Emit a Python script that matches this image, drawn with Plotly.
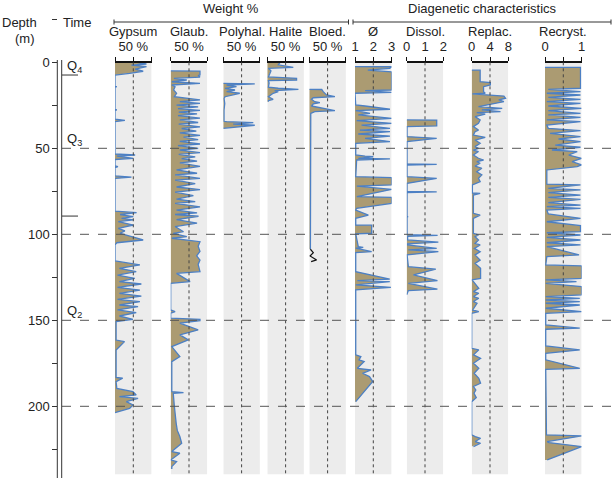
import plotly.graph_objects as go

# ---- depth axis / time column ----
depth_ticks = [0, 50, 100, 150, 200]
depth_labels = ["0", "50", "100", "150", "200"]
depth_minor_step = 25
grid_depths = [50, 100, 150, 200]
time_bounds = [7.4, 89.4]
time_labels = ["Q<sub>4</sub>", "Q<sub>3</sub>", "Q<sub>2</sub>"]
time_label_depths = [2.5, 45, 145]

# ---- panels ----
panel_names = ["Gypsum", "Glaub.", "Polyhal.", "Halite", "Bloed.", "Ø", "Dissol.", "Replac.", "Recryst."]
panel_ranges = [[0, 100], [0, 100], [0, 100], [0, 100], [0, 100], [1, 3], [0, 2], [0, 8], [0, 1]]
panel_tickvals = [[50]] * 5 + [[1, 2, 3], [0, 1, 2], [0, 4, 8], [0, 1]]
panel_ticktext = [["50 %"]] * 5 + [["1", "2", "3"], ["0", "1", "2"], ["0", "4", "8"], ["0", "1"]]

gypsum_depth = [0, 1.0, 1.6, 2.5, 4.0, 5.2, 6.4, 7.4, 14.0, 14.2, 14.5, 27.4, 27.7, 28.0, 33.0, 33.8, 34.5,
                53.3, 53.9, 54.5, 55.8, 56.5, 60.2, 60.7, 61.2, 66.0, 66.8, 67.5, 86.5, 87.4, 88.5, 89.7, 90.7,
                91.6, 92.6, 94.6, 96.5, 98.0, 99.4, 101.0, 103.3, 104.9, 106.2, 115.5, 117.8, 119.8, 121.7,
                123.7, 125.6, 127.5, 128.9, 130.8, 132.4, 134.3, 135.9, 137.8, 139.2, 141.1, 142.1, 144.0,
                145.6, 147.5, 149.4, 150.8, 161.5, 162.4, 167.3, 183.2, 183.7, 185.7, 189.6, 191.5, 193.4,
                194.4, 195.4, 197.3, 199.2, 201.2, 203.7]
gypsum_pct = [60, 86, 45, 86, 55, 77, 40, 0, 0, 5, 0, 0, 5, 0, 0, 27, 0,
              0, 55, 5, 50, 0, 0, 8, 0, 0, 45, 0, 0, 59, 14, 50, 18,
              50, 9, 50, 9, 27, 14, 40, 77, 5, 0, 0, 68, 12, 58,
              7, 54, 12, 72, 7, 68, 12, 72, 7, 68, 12, 63, 7,
              58, 12, 49, 3, 3, 26, 3, 3, 21, 3, 5, 49, 58,
              12, 63, 31, 49, 40, 0]

glaub_depth = [5.0, 5.1, 7.4, 7.6, 8.6, 9.3, 10.3, 11.3, 12.2, 13.2, 14.2, 16.1, 18.0, 20.0, 21.9, 22.9, 23.9,
               24.9, 25.9, 26.9, 28.0, 29.0, 30.0, 31.0, 32.5, 33.5, 35.0, 36.0, 37.5, 38.5, 40.0, 41.0, 42.5,
               43.5, 45.0, 46.0, 47.5, 48.5, 50.0, 51.0, 52.5, 53.5, 55.0, 56.0, 57.5, 58.5, 60.5, 62.5, 64.5,
               65.5, 67.5, 68.5, 70.5, 72.5, 74.0, 75.5, 77.5, 79.5, 81.0, 82.0, 84.0, 86.0, 87.5, 88.5, 89.5,
               91.5, 93.5, 95.5, 98.5, 99.4, 101.4, 102.3, 104.3, 107.0, 110.0, 112.5, 115.0, 117.5, 121.7,
               122.7, 127.5, 128.5, 144.0, 144.9, 145.9, 148.8, 149.4, 150.2, 151.7, 155.6, 158.5, 161.4,
               165.3, 171.1, 174.0, 191.5, 192.0, 192.4, 200.0, 205.0, 209.9, 214.0, 217.6, 221.5, 226.3,
               227.3, 231.2, 232.2, 235.1, 236.5]
glaub_pct = [0, 80, 80, 75, 80, 9, 44, 3, 80, 3, 12, 8, 16, 10, 80, 25, 80,
             16, 75, 20, 80, 22, 72, 20, 80, 25, 75, 22, 80, 30, 70, 25, 80,
             35, 75, 25, 80, 20, 75, 25, 80, 22, 67, 30, 72, 25, 80, 16, 72,
             12, 80, 12, 67, 16, 80, 12, 62, 16, 67, 12, 80, 16, 72, 12, 76,
             16, 72, 12, 35, 7, 44, 3, 80, 75, 80, 71, 80, 75, 80,
             16, 53, 0, 0, 12, 0, 0, 80, 80, 25, 75, 25, 48,
             3, 25, 3, 3, 35, 7, 10, 12, 15, 18, 25, 30, 3,
             25, 0, 16, 3, 3]

polyhal_depth = [12.2, 12.6, 13.2, 14.2, 15.1, 16.1, 17.1, 18.0, 20.0, 21.0, 24.0, 27.7, 34.3, 34.5, 35.1,
                 35.9, 36.6, 37.4, 38.4]
polyhal_pct = [0, 86, 9, 36, 5, 32, 9, 45, 5, 2, 4, 2, 2, 9, 82, 27, 86, 36, 0]

halite_depth = [0, 1.5, 2.9, 3.5, 5.0, 7.0, 8.5, 9.3, 10.3, 10.7, 12.0, 14.5, 15.1, 15.7, 16.5, 17.1, 18.0,
                20.0, 21.5, 22.3, 22.9]
halite_pct = [35, 30, 71, 3, 10, 5, 3, 80, 80, 3, 5, 3, 30, 85, 20, 30, 16, 3, 16, 3, 3]

bloed_depth = [15.7, 15.8, 17.1, 19.0, 20.0, 20.6, 21.5, 22.9, 23.5, 24.2, 25.4, 27.3, 28.1, 28.7, 29.7, 108.7]
bloed_pct = [0, 34, 38, 47, 70, 11, 6, 15, 29, 11, 6, 47, 70, 15, 4, 3]
# break symbol at the end of the Bloed. record
bloed_break_depth = [108.7, 110.7, 112.6, 114.9, 115.9]
bloed_break_pct = [3, 11, 2, 20, 5]

phi_depth = [2.5, 2.6, 3.5, 4.6, 5.6, 16.1, 16.5, 17.5, 18.0, 24.8, 25.4, 25.8, 27.3, 28.1, 29.7, 30.6, 32.6,
             33.9, 35.5, 36.5, 38.4, 39.4, 40.3, 41.7, 42.9, 44.2, 46.1, 47.1, 53.9, 54.5, 54.9, 55.8, 56.2,
             56.8, 66.5, 67.1, 71.3, 72.0, 73.9, 78.1, 78.5, 82.0, 84.9, 85.9, 88.8, 90.7, 94.6, 94.7, 99.4,
             99.8, 107.2, 107.6, 108.1, 110.1, 110.7, 121.7, 126.1, 126.9, 127.5, 129.4, 130.8, 132.3, 170.1,
             171.1, 173.0, 174.0, 177.9, 178.9, 180.8, 182.7, 185.6, 197.3]
phi_val = [1.0, 3.0, 2.9, 1.7, 3.0, 3.0, 1.55, 3.0, 1.0, 1.04, 1.55, 1.91, 2.91, 1.04, 1.82, 1.18, 3.0,
           1.09, 3.0, 1.36, 2.91, 1.27, 2.91, 1.18, 2.91, 1.55, 2.91, 1.04, 1.04, 1.55, 2.0, 1.18, 2.91,
           1.09, 1.04, 3.0, 3.0, 1.1, 3.0, 1.1, 3.0, 3.0, 1.09, 1.04, 1.73, 1.04, 1.04, 1.91, 1.91,
           1.04, 1.18, 1.45, 1.04, 1.91, 1.04, 1.04, 2.9, 1.13, 2.9, 1.04, 2.96, 1.04, 1.04,
           1.32, 1.22, 1.5, 1.13, 1.88, 1.41, 1.79, 1.97, 1.04]

dissol_depth = [33.5, 33.6, 37.0, 37.4, 43.2, 44.2, 46.1, 59.0, 59.3, 59.7, 66.5, 67.5, 70.4, 75.0, 75.3, 75.8,
                89.5, 89.8, 90.1, 100.2, 100.6, 101.2, 103.3, 104.6, 105.5, 106.2, 108.2, 109.1, 110.1, 112.0,
                118.8, 120.3, 123.6, 126.9, 128.5, 131.9, 132.7, 135.2]
dissol_val = [0, 1.64, 1.64, 0.02, 0.02, 1.64, 0.02, 0.02, 1.64, 0.02, 0.02, 1.64, 0.02, 0.02, 1.64, 0.02,
              0.02, 0.07, 0.02, 0.02, 1.69, 0.05, 0.05, 1.73, 0.05, 0.05, 1.64, 0.09, 1.73, 0.02,
              0.09, 1.59, 0.37, 1.68, 0.09, 1.68, 0.09, 0.0]

replac_depth = [4.5, 4.6, 11.3, 11.8, 13.2, 14.2, 17.1, 18.0, 18.4, 19.0, 19.6, 20.9, 21.9, 22.9, 23.9, 25.8,
                26.8, 27.7, 28.7, 29.3, 30.1, 31.6, 33.5, 35.5, 37.4, 39.4, 40.3, 42.3, 43.6, 45.2, 47.1, 49.0,
                50.0, 51.0, 51.9, 53.9, 55.8, 56.8, 57.8, 58.7, 60.3, 61.6, 63.6, 65.5, 67.5, 69.4, 71.3, 76.0,
                76.2, 77.2, 87.8, 88.8, 90.7, 99.4, 100.4, 101.4, 103.3, 105.3, 106.2, 108.2, 110.1, 112.0,
                115.0, 116.9, 119.8, 125.6, 126.5, 127.5, 131.4, 133.3, 134.3, 136.2, 137.2, 139.1, 140.1,
                144.0, 144.9, 145.9, 166.3, 167.2, 170.1, 172.1, 175.0, 177.9, 180.8, 183.7, 186.6, 188.5,
                190.5, 192.4, 195.0, 197.3, 216.6, 217.6, 218.6, 220.5, 221.5, 223.4]
replac_val = [0, 1.85, 1.85, 4.07, 4.07, 2.59, 2.59, 2.96, 0.15, 4.44, 7.04, 7.4, 5.93, 7.04, 5.19, 1.48,
              6.67, 2.22, 6.3, 1.11, 2.96, 0.74, 1.85, 1.48, 0.37, 1.48, 0.74, 0.37, 2.96, 0.74, 1.85, 0.74,
              1.48, 0.37, 1.48, 0.37, 1.48, 2.59, 1.11, 1.85, 0.74, 2.22, 1.11, 2.22, 1.48, 1.85, 0.15, 0.15,
              1.85, 0.37, 0.37, 1.85, 0.37, 0.37, 1.48, 0.74, 1.48, 0.74, 1.85, 0.59, 1.85, 0.74,
              1.85, 0.74, 1.94, 1.94, 0.0, 0.39, 1.55, 0.39, 1.55, 0.39, 1.55, 0.39, 1.17,
              0.23, 1.55, 0.0, 0.0, 1.55, 0.39, 1.94, 0.39, 1.55, 0.54, 1.55, 1.94, 0.39,
              0.9, 0.5, 1.0, 0.0, 0.0, 0.78, 1.94, 0.78, 1.94, 0.39]

recryst_depth = [2.9, 3.0, 15.1, 15.7, 17.1, 18.0, 19.0, 20.4, 21.5, 22.9, 23.9, 25.4, 26.8, 28.1, 29.7, 30.6,
                 32.0, 33.5, 34.5, 36.5, 38.4, 39.7, 41.3, 43.2, 44.6, 46.1, 48.1, 49.4, 51.0, 51.9, 53.9, 55.8,
                 57.8, 59.7, 60.7, 62.6, 70.8, 71.3, 73.3, 74.2, 75.8, 77.2, 78.5, 79.7, 81.6, 83.0, 83.9, 84.9,
                 85.9, 88.2, 90.7, 92.7, 95.0, 98.5, 99.1, 100.4, 101.8, 103.3, 104.9, 106.2, 107.2, 112.0,
                 113.0, 117.8, 118.4, 125.6, 126.5, 127.5, 128.5, 130.4, 135.2, 136.2, 137.2, 138.2, 139.1,
                 140.1, 141.1, 143.0, 144.9, 145.9, 152.7, 154.6, 155.2, 164.9, 167.2, 169.2, 173.0, 177.9,
                 178.5, 216.6, 217.2, 220.5, 221.1, 223.4, 231.2]
recryst_val = [0, 0.97, 0.97, 0.09, 0.97, 0.05, 0.97, 0.09, 0.97, 0.05, 0.97, 0.09, 1.0, 0.09, 0.97, 0.09,
               0.97, 0.05, 0.97, 0.05, 0.09, 0.97, 0.14, 0.97, 0.37, 0.97, 0.28, 0.97, 0.19, 0.88, 0.65, 1.0,
               0.74, 1.0, 0.88, 0.05, 0.05, 0.97, 0.09, 0.97, 0.09, 0.97, 0.09, 0.97, 0.09, 0.97, 0.05, 0.97,
               0.05, 0.09, 0.97, 0.05, 0.97, 0.97, 0.05, 0.97, 0.05, 0.97, 0.05, 0.97, 0.05, 0.93,
               0.05, 0.02, 1.0, 1.0, 0.02, 0.86, 0.02, 1.0, 1.0, 0.02, 0.95, 0.02, 0.95,
               0.02, 0.95, 0.02, 1.0, 0.02, 0.02, 0.95, 0.02, 0.02, 0.95, 0.02, 0.02, 0.95,
               0.02, 0.04, 1.0, 0.06, 0.11, 1.0, 0.06]

panel_depths = [gypsum_depth, glaub_depth, polyhal_depth, halite_depth, bloed_depth,
                phi_depth, dissol_depth, replac_depth, recryst_depth]
panel_values = [gypsum_pct, glaub_pct, polyhal_pct, halite_pct, bloed_pct,
                phi_val, dissol_val, replac_val, recryst_val]

# ---- page geometry (pixels) ----
W, H = 613, 478
panel_left = [115, 170.7, 223.3, 267.3, 309.3, 355, 406.7, 471.7, 545]
panel_w = 36.6
top_py = 62.3          # depth 0
px_per_m = 1.72
bar_py = 62
bottom_depth = 239.5

TAN = '#ab9b72'
BLUE = '#4d80c4'
GREY = '#ececec'
INK = '#222222'
FONT = 'Liberation Sans, Arial, sans-serif'


def px(x):
    return x / W


def py(y):
    return 1 - y / H


fig = go.Figure()
layout = {}
shapes = []
annotations = []

for i, name in enumerate(panel_names):
    n = '' if i == 0 else str(i + 1)
    xa = 'x' + n
    lo, hi = panel_ranges[i]
    mid = (lo + hi) / 2
    d = panel_depths[i]
    v = panel_values[i]

    # tan fill closed back to the left edge of the panel
    fig.add_trace(go.Scatter(x=[lo] + v + [lo], y=[d[0]] + d + [d[-1]], xaxis=xa, yaxis='y',
                             mode='lines', fill='toself', fillcolor=TAN, line=dict(width=0),
                             hoverinfo='skip', showlegend=False))
    fig.add_trace(go.Scatter(x=v, y=d, xaxis=xa, yaxis='y', mode='lines',
                             line=dict(color=BLUE, width=1.3), hoverinfo='skip', showlegend=False))

    layout['xaxis' + n] = dict(domain=[px(panel_left[i]), px(panel_left[i] + panel_w)], range=[lo, hi],
                               anchor='free', position=py(bar_py), side='top',
                               showline=True, linecolor='#111', linewidth=2.2,
                               ticks='outside', ticklen=4, tickwidth=1.2, tickcolor='#111',
                               tickvals=panel_tickvals[i], ticktext=panel_ticktext[i],
                               minor=dict(tick0=lo, dtick=(hi - lo) / 2, ticks='outside', ticklen=4,
                                          tickwidth=1.2, tickcolor='#111', showgrid=False),
                               tickfont=dict(size=13, color=INK), ticklabelstandoff=1,
                               showgrid=False, zeroline=False, fixedrange=True)

    shapes.append(dict(type='rect', xref=xa, yref='y', x0=lo, x1=hi, y0=0, y1=bottom_depth,
                       fillcolor=GREY, line=dict(width=0), layer='below'))
    shapes.append(dict(type='line', xref=xa, yref='y', x0=mid, x1=mid, y0=0, y1=bottom_depth,
                       line=dict(color='#444', width=1, dash='dot'), layer='above'))
    annotations.append(dict(text=name, xref='paper', yref='paper', x=px(panel_left[i] + panel_w / 2),
                            y=py(32), showarrow=False, xanchor='center', yanchor='middle',
                            font=dict(size=13, color=INK)))

# break symbol on the Bloed. column
fig.add_trace(go.Scatter(x=bloed_break_pct, y=bloed_break_depth, xaxis='x5', yaxis='y', mode='lines',
                         line=dict(color='#111', width=1.2), hoverinfo='skip', showlegend=False))

# dashed depth lines
for g in grid_depths:
    shapes.append(dict(type='line', xref='paper', yref='y', x0=px(62), x1=1, y0=g, y1=g,
                       line=dict(color='#555', width=1, dash='dash'), layer='above'))

# double vertical line of depth / time columns
for xl in [57.3, 61.7]:
    shapes.append(dict(type='line', xref='paper', yref='paper', x0=px(xl), x1=px(xl), y0=0, y1=py(60),
                       line=dict(color='#333', width=1)))
for tb in time_bounds:
    shapes.append(dict(type='line', xref='paper', yref='y', x0=px(62), x1=px(78), y0=tb, y1=tb,
                       line=dict(color='#333', width=1)))
for lab, dep in zip(time_labels, time_label_depths):
    annotations.append(dict(text=lab, xref='paper', yref='y', x=px(65), y=dep, showarrow=False,
                            xanchor='left', yanchor='middle', font=dict(size=13, color=INK)))

# group brackets
for x0, x1, title, xc in [(114, 348.5, 'Weight %', 231), (353, 611, 'Diagenetic characteristics', 482)]:
    shapes.append(dict(type='line', xref='paper', yref='paper', x0=px(x0), x1=px(x1), y0=py(22), y1=py(22),
                       line=dict(color='#333', width=1)))
    for xe in (x0, x1):
        shapes.append(dict(type='line', xref='paper', yref='paper', x0=px(xe), x1=px(xe), y0=py(19.5),
                           y1=py(24.5), line=dict(color='#333', width=1)))
    annotations.append(dict(text=title, xref='paper', yref='paper', x=px(xc), y=py(8.5), showarrow=False,
                            xanchor='center', yanchor='middle', font=dict(size=13, color=INK)))

annotations.append(dict(text='Depth', xref='paper', yref='paper', x=px(38.5), y=py(22.5), showarrow=False,
                        xanchor='right', yanchor='middle', font=dict(size=13, color=INK)))
annotations.append(dict(text='(m)', xref='paper', yref='paper', x=px(36.5), y=py(38), showarrow=False,
                        xanchor='right', yanchor='middle', font=dict(size=13, color=INK)))
annotations.append(dict(text='Time', xref='paper', yref='paper', x=px(77), y=py(22.5), showarrow=False,
                        xanchor='center', yanchor='middle', font=dict(size=13, color=INK)))

y_top = -top_py / px_per_m
y_bottom = (H - top_py) / px_per_m
layout['yaxis'] = dict(domain=[0, 1], range=[y_bottom, y_top], anchor='free', position=px(57.3), side='left',
                       showline=False, ticks='outside', ticklen=5, tickwidth=1, tickcolor='#333',
                       tickvals=depth_ticks, ticktext=depth_labels, tickfont=dict(size=13, color=INK),
                       minor=dict(tick0=0, dtick=depth_minor_step, ticks='outside', ticklen=5,
                                  tickwidth=1, tickcolor='#333', showgrid=False),
                       showgrid=False, zeroline=False, fixedrange=True)

fig.update_layout(width=W, height=H, margin=dict(l=0, r=0, t=0, b=0, autoexpand=False),
                  paper_bgcolor='white', plot_bgcolor='rgba(0,0,0,0)',
                  font=dict(family=FONT, size=13, color=INK),
                  shapes=shapes, annotations=annotations, showlegend=False, **layout)

# the page body has a default 8px margin; drop it so the figure sits at the window corner
fig.write_html("out.html", config={'displayModeBar': False},
               post_script="document.body.style.margin='0px';")
